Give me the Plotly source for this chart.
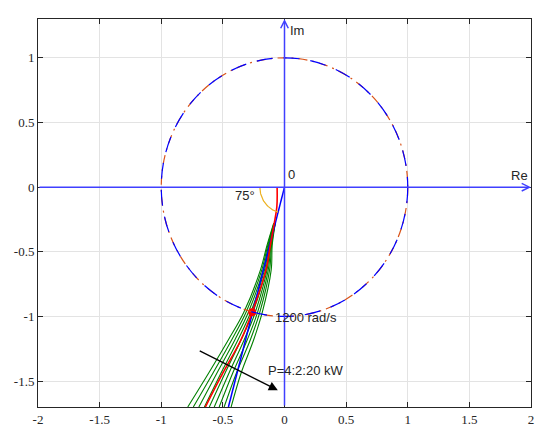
import numpy as np
import plotly.graph_objects as go

# --- data ---
X_TICKS = [-2, -1.5, -1, -0.5, 0, 0.5, 1, 1.5, 2]
Y_TICKS = [-1.5, -1, -0.5, 0, 0.5, 1]

# y levels at which the P-sweep curves were read
Y_LEVELS = [-0.28, -0.45, -0.64, -0.967, -1.18, -1.437, -1.70]
# x of each green curve (P = 4:2:20 kW) at those levels, left to right
P_CURVES_X = [
    [-0.088, -0.142, -0.195, -0.330, -0.455, -0.615, -0.785],
    [-0.086, -0.136, -0.184, -0.312, -0.428, -0.580, -0.740],
    [-0.084, -0.130, -0.173, -0.293, -0.402, -0.548, -0.695],
    [-0.082, -0.125, -0.162, -0.274, -0.377, -0.515, -0.650],
    [-0.080, -0.120, -0.152, -0.256, -0.352, -0.482, -0.610],
    [-0.078, -0.115, -0.142, -0.237, -0.327, -0.450, -0.570],
    [-0.077, -0.110, -0.132, -0.218, -0.302, -0.420, -0.530],
    [-0.076, -0.105, -0.121, -0.200, -0.277, -0.390, -0.490],
    [-0.075, -0.100, -0.108, -0.180, -0.250, -0.352, -0.433],
]

# nominal curve (red)
RED_Y = [0, -0.15, -0.29, -0.45, -0.64, -0.967, -1.184, -1.437, -1.70]
RED_X = [-0.06, -0.062, -0.085, -0.115, -0.150, -0.262, -0.355, -0.500, -0.642]

# 75 deg damping line (blue)
LINE_X = [0, -0.455]
LINE_Y = [0, -1.70]

# design point at 1200 rad/s
PT_X = [-0.262]
PT_Y = [-0.967]

ARC_R = 0.2
ARC_DEG = [180, 255]

AXIS_BLUE = "#4040ff"
TXT = "#262626"

fig = go.Figure()

# unit circle: orange dash-dot under blue dashes
fig.add_shape(type="circle", xref="x", yref="y", x0=-1, y0=-1, x1=1, y1=1,
              line=dict(color="#D95319", width=1.2, dash="9px,5px,2px,5px"), layer="above")
fig.add_shape(type="circle", xref="x", yref="y", x0=-1, y0=-1, x1=1, y1=1,
              line=dict(color="#0000ff", width=1.2, dash="16px,11px"), layer="above")

for xs in P_CURVES_X:
    fig.add_trace(go.Scatter(x=xs, y=Y_LEVELS, mode="lines", showlegend=False,
                             line=dict(color="#008000", width=1.1, shape="spline")))

fig.add_trace(go.Scatter(x=LINE_X, y=LINE_Y, mode="lines", showlegend=False,
                         line=dict(color="#0000ff", width=1.5)))
fig.add_trace(go.Scatter(x=RED_X, y=RED_Y, mode="lines", showlegend=False,
                         line=dict(color="#ff0000", width=1.6, shape="spline")))
fig.add_trace(go.Scatter(x=PT_X, y=PT_Y, mode="markers", showlegend=False,
                         marker=dict(color="#ff0000", size=8)))

th = np.radians(np.linspace(ARC_DEG[0], ARC_DEG[1], 40))
fig.add_trace(go.Scatter(x=ARC_R * np.cos(th), y=ARC_R * np.sin(th), mode="lines",
                         showlegend=False, line=dict(color="#EDB120", width=1.2)))

# Re / Im axes with arrow heads
fig.add_annotation(x=2, y=0, ax=-2, ay=0, xref="x", yref="y", axref="x", ayref="y",
                   text="", showarrow=True, arrowhead=5, arrowsize=1.0,
                   arrowwidth=1.5, arrowcolor=AXIS_BLUE)
fig.add_annotation(x=0, y=1.3, ax=0, ay=-1.7, xref="x", yref="y", axref="x", ayref="y",
                   text="", showarrow=True, arrowhead=5, arrowsize=1.0,
                   arrowwidth=1.5, arrowcolor=AXIS_BLUE)

# P sweep arrow
fig.add_annotation(x=-0.054, y=-1.57, ax=-0.70, ay=-1.26, xref="x", yref="y",
                   axref="x", ayref="y", text="", showarrow=True, arrowhead=2,
                   arrowsize=1.4, arrowwidth=1.3, arrowcolor="black")

lbl = dict(family="Liberation Sans, Arial, sans-serif", size=13, color=TXT)
fig.add_annotation(x=1.905, y=0.09, text="Re", showarrow=False, font=lbl)
fig.add_annotation(x=0.10, y=1.21, text="Im", showarrow=False, font=lbl)
fig.add_annotation(x=0.055, y=0.10, text="0", showarrow=False, font=lbl)
fig.add_annotation(x=-0.317, y=-0.064, text="75°", showarrow=False, font=lbl)
fig.add_annotation(x=-0.095, y=-1.011, text="1200 rad/s", showarrow=False,
                   xanchor="left", font=lbl)
fig.add_annotation(x=-0.154, y=-1.416, text="P=4:2:20 kW", showarrow=False,
                   xanchor="left", font=lbl)

ax_style = dict(showgrid=True, gridcolor="#e3e3e3", gridwidth=1, zeroline=False,
                showline=True, linecolor=TXT, linewidth=1, mirror="ticks",
                ticks="inside", ticklen=5, tickcolor=TXT, automargin=False,
                tickfont=dict(family="'Liberation Serif', 'DejaVu Serif', serif",
                              size=13, color=TXT))

# page body adds ~8px offset, margins compensate for that
fig.update_layout(
    width=550, height=437,
    margin=dict(l=30, r=27, t=11, b=38),
    paper_bgcolor="white", plot_bgcolor="white",
    xaxis=dict(range=[-2, 2], tickvals=X_TICKS,
               ticktext=[f"{v:g}" for v in X_TICKS], **ax_style),
    yaxis=dict(range=[-1.7, 1.3], tickvals=Y_TICKS,
               ticktext=[f"{v:g}" for v in Y_TICKS], **ax_style),
)

fig.write_html("out.html")
